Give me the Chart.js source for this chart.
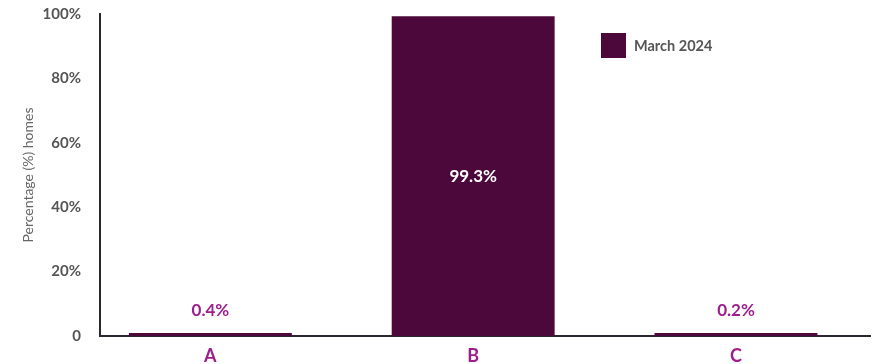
<!DOCTYPE html>
<html lang="en">
<head>
<meta charset="UTF-8" />
<title>Percentage of homes, March 2024</title>
<style>
  body { margin: 0; background: #fff; font-family: Lato, "Open Sans", sans-serif; }
  .wrap { position: relative; width: 875px; height: 364px; }
  .legend {
    position: absolute; left: 601px; top: 33px;
    display: flex; align-items: center;
    font-weight: bold; font-size: 14.5px; color: #555;
  }
  .legend span.box { width: 25px; height: 25px; margin-right: 8px; display: inline-block; }
</style>
</head>
<body>
<div class="wrap">
  <canvas id="chart" width="875" height="364"></canvas>
  <div class="legend" id="legend"></div>
</div>
<script src="https://cdn.jsdelivr.net/npm/chart.js"></script>
<script>
const categories = ["A", "B", "C"]
const march2024 = [0.4, 99.3, 0.2]
const yTicks = [0, 20, 40, 60, 80, 100]

const barColor = "#4d083b"
const labelColor = "#9c1f8c"
const seriesName = "March 2024"

// bars sit on a linear x axis (1, 2, 3) so their spacing can match the picture
const points = march2024.map((v, i) => ({ x: i + 1, y: v }))

const valueLabels = {
  id: "valueLabels",
  afterDatasetsDraw(chart) {
    const ctx = chart.ctx
    const meta = chart.getDatasetMeta(0)
    ctx.save()
    ctx.font = "bold 17px Lato, sans-serif"
    ctx.textAlign = "center"
    ctx.textBaseline = "middle"
    meta.data.forEach((bar, i) => {
      const v = march2024[i]
      const text = v.toFixed(1) + "%"
      if (v > 50) {
        ctx.fillStyle = "#fff"
        ctx.fillText(text, bar.x, (bar.y + bar.base) / 2)
      } else {
        ctx.fillStyle = labelColor
        ctx.fillText(text, bar.x, bar.y - 22)
      }
    })
    ctx.restore()
  }
}

const chart = new Chart(document.getElementById("chart"), {
  type: "bar",
  data: {
    datasets: [{
      label: seriesName,
      data: points,
      backgroundColor: barColor,
      borderWidth: 0,
      barPercentage: 0.62,
      categoryPercentage: 1,
      minBarLength: 3
    }]
  },
  options: {
    responsive: false,
    animation: false,
    layout: { padding: { top: 14, right: 5, bottom: 0, left: 16 } },
    plugins: { legend: { display: false }, tooltip: { enabled: false } },
    scales: {
      x: {
        type: "linear",
        offset: false,
        min: 0.58,
        max: 3.51,
        afterBuildTicks: (axis) => { axis.ticks = categories.map((c, i) => ({ value: i + 1 })) },
        afterFit: (scale) => { scale.height = 28 },
        grid: { display: false, drawTicks: false },
        border: { display: true, color: "#2a2733", width: 2 },
        ticks: {
          padding: 9,
          color: labelColor,
          font: { family: "Lato", size: 18, weight: "bold" },
          callback: (v) => categories[v - 1]
        }
      },
      y: {
        min: 0,
        max: 100,
        afterBuildTicks: (axis) => { axis.ticks = yTicks.map(v => ({ value: v })) },
        afterFit: (scale) => {
          scale.width = 84
          scale.paddingTop = 0
          scale.paddingBottom = 0
        },
        grid: { display: false, drawTicks: false },
        border: { display: true, color: "#2a2733", width: 2 },
        ticks: {
          padding: 19,
          color: "#555",
          font: { family: "Lato", size: 15, weight: "bold" },
          callback: (v) => v === 0 ? "0" : v + "%"
        },
        title: {
          display: true,
          text: "Percentage (%) homes",
          color: "#666",
          font: { family: "Lato", size: 14 },
          padding: { top: 4, bottom: 0 }
        }
      }
    }
  },
  plugins: [valueLabels]
})

document.getElementById("legend").innerHTML =
  '<span class="box" style="background:' + barColor + '"></span>' + seriesName
</script>
</body>
</html>
